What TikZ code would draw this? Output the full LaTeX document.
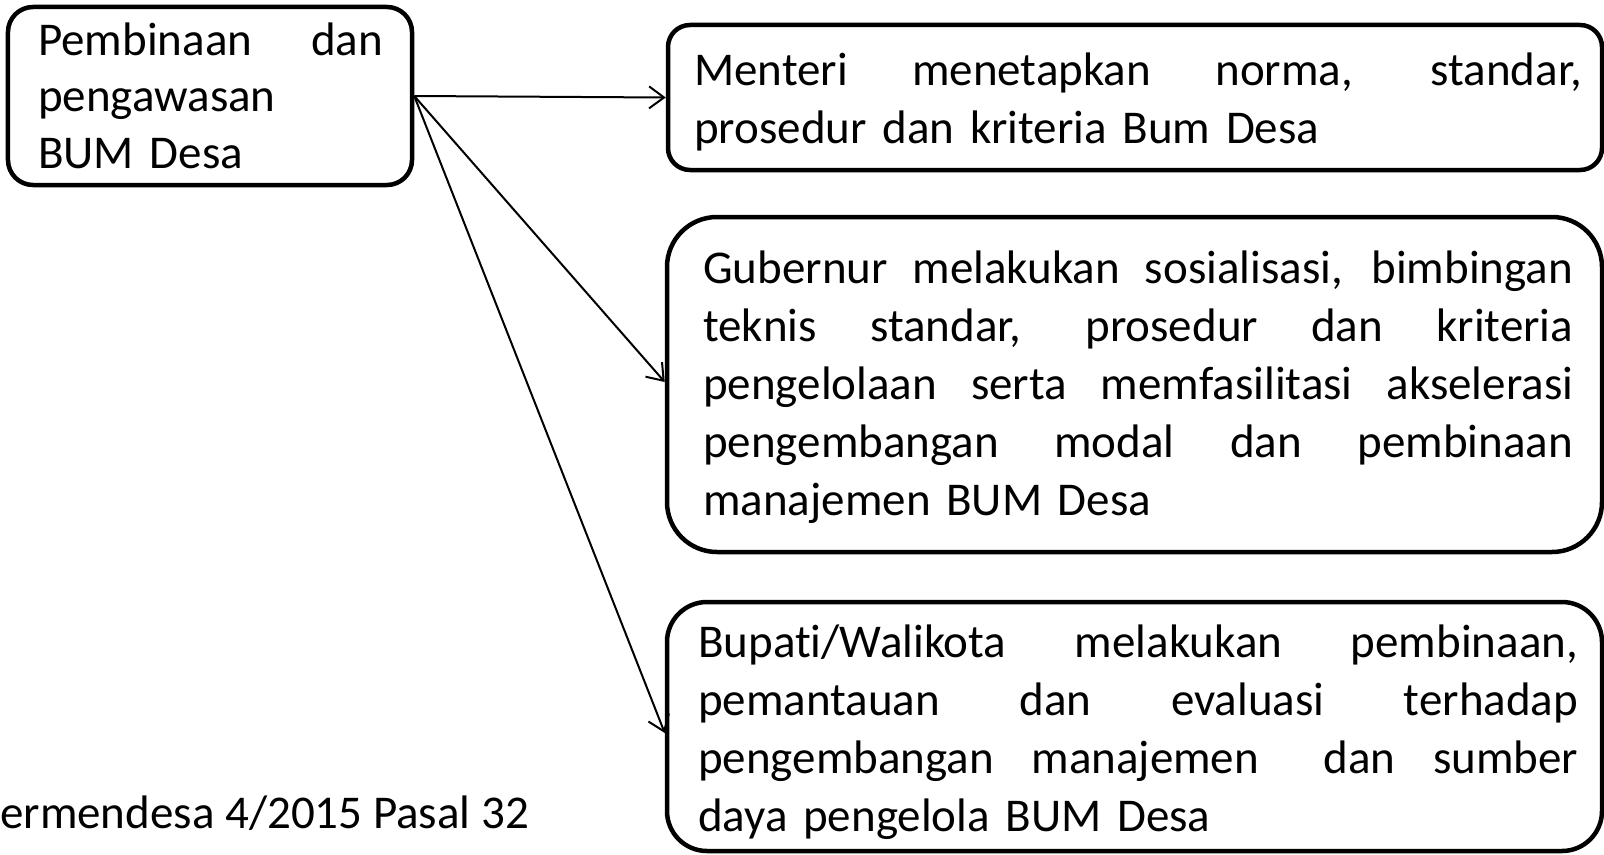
\documentclass[tikz,border=0pt]{standalone}
\usepackage{fontspec}
\setmainfont{Carlito}[RawFeature={-liga;-clig;-calt;-dlig}]
\usetikzlibrary{arrows.meta}
\newcommand{\jline}[2]{\leavevmode\hbox to #1{\spaceskip=\fontdimen2\font plus 1fil\relax #2}}
\begin{document}
\begin{tikzpicture}[x=1bp,y=-1bp,
  box/.style={draw=black, line width=4.5bp, rectangle, inner sep=0pt},
  txt/.style={anchor=base west, inner sep=0pt, align=left,
    font=\fontsize{47bp}{58bp}\selectfont},
  conn/.style={draw=black, line width=2bp, -{Straight Barb[length=15bp,width=22bp]}}]
\useasboundingbox (0,0) rectangle (1604,854);
\clip (0,0) rectangle (1604,854);
\fill[white] (0,0) rectangle (1604,854);

\node[box, rounded corners=25bp, minimum width=404bp, minimum height=178bp] (b1) at (210,96) {};
\node[box, rounded corners=22bp, minimum width=934bp, minimum height=145bp] (b2) at (1135,97.5) {};
\node[box, rounded corners=50bp, minimum width=935bp, minimum height=335bp] (b3) at (1134.5,384.5) {};
\node[box, rounded corners=40bp, minimum width=935bp, minimum height=249bp] (b4) at (1134.5,726.5) {};

\node[txt, text width=345bp, font=\fontsize{47bp}{56.5bp}\selectfont] (t1) at (38,55) {\jline{345bp}{Pembinaan dan}\\pengawasan\\BUM Desa};
\node[txt, text width=888bp] (t2) at (694,85) {\jline{888bp}{Menteri menetapkan norma, standar,}\\prosedur dan kriteria Bum Desa};
\node[txt, text width=870bp] (t3) at (703,283) {\jline{870bp}{Gubernur melakukan sosialisasi, bimbingan}\\\jline{870bp}{teknis standar, prosedur dan kriteria}\\\jline{870bp}{pengelolaan serta memfasilitasi akselerasi}\\\jline{870bp}{pengembangan modal dan pembinaan}\\manajemen BUM Desa};
\node[txt, text width=880bp] (t4) at (698,657) {\jline{880bp}{Bupati/Walikota melakukan pembinaan,}\\\jline{880bp}{pemantauan dan evaluasi terhadap}\\\jline{880bp}{pengembangan manajemen\hspace{0pt plus 1fil} dan sumber}\\daya pengelola BUM Desa};
\node[anchor=base east, inner sep=0pt, font=\fontsize{47bp}{58bp}\selectfont] (src) at (529,828) {Permendesa 4/2015 Pasal 32};

\draw[conn] (b1.east) -- (b2.west);
\draw[conn] (b1.east) -- ([yshift=2.5bp]b3.west);
\draw[conn] (b1.east) -- ([yshift=-6.5bp]b4.west);
\end{tikzpicture}
\end{document}
